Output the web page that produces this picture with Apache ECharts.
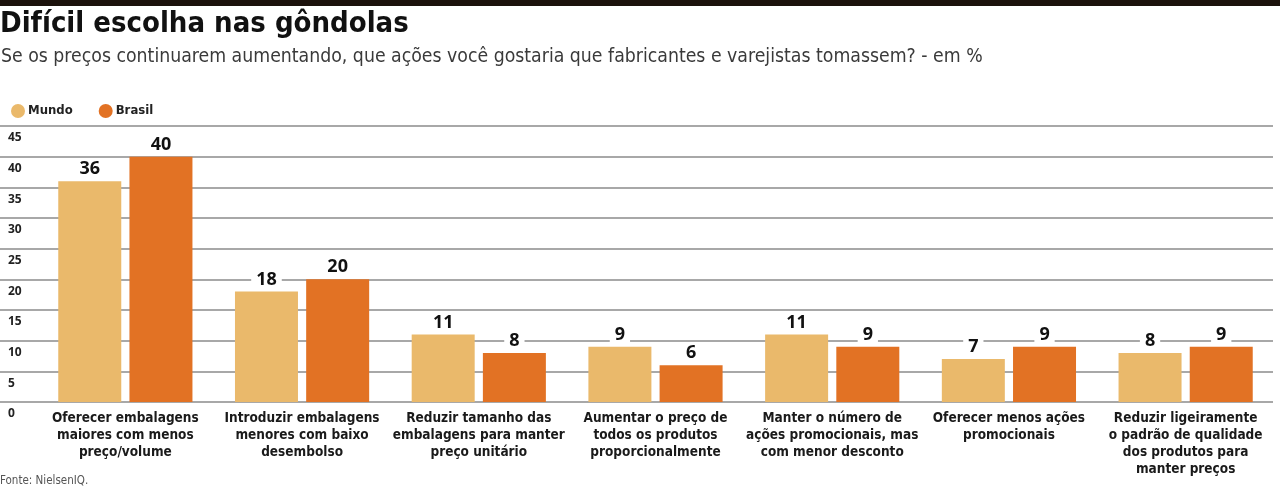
<!DOCTYPE html>
<html>
<head>
<meta charset="utf-8">
<script src="https://cdn.jsdelivr.net/npm/echarts@6/dist/echarts.min.js"></script>
<style>
html,body{margin:0;padding:0;background:#fff;}
#c{width:1280px;height:488px;}
</style>
</head>
<body>
<div id="c"></div>
<script>
const categories = [
  'Oferecer embalagens\nmaiores com menos\npreço/volume',
  'Introduzir embalagens\nmenores com baixo\ndesembolso',
  'Reduzir tamanho das\nembalagens para manter\npreço unitário',
  'Aumentar o preço de\ntodos os produtos\nproporcionalmente',
  'Manter o número de\nações promocionais, mas\ncom menor desconto',
  'Oferecer menos ações\npromocionais',
  'Reduzir ligeiramente\no padrão de qualidade\ndos produtos para\nmanter preços'
];
const mundo = [36, 18, 11, 9, 11, 7, 8];
const brasil = [40, 20, 8, 6, 9, 9, 9];
const seriesNames = ['Mundo', 'Brasil'];
const titleText = 'Difícil escolha nas gôndolas';
const subtitleText = 'Se os preços continuarem aumentando, que ações você gostaria que fabricantes e varejistas tomassem? - em %';
const sourceText = 'Fonte: NielsenIQ.';

const COND = '"DejaVu Sans Condensed", sans-serif';
const chart = echarts.init(document.getElementById('c'), null, {renderer: 'canvas'});

const valueLabel = {
  show: true, position: 'top', distance: 3,
  fontFamily: '"Open Sans", sans-serif', fontWeight: 'bold', fontSize: 18, color: '#111',
  backgroundColor: '#fff', padding: [0, 5, 0, 5]
};

chart.setOption({
  animation: false,
  backgroundColor: '#fff',
  graphic: [{
    type: 'rect', left: 0, top: 0, shape: {width: 1280, height: 6},
    style: {fill: '#1c120c'}
  }],
  title: [
    {text: titleText, left: 0, top: 10, padding: 0,
     textStyle: {fontFamily: COND, fontWeight: 'bold', fontSize: 29, color: '#111'}},
    {text: subtitleText, left: 1, top: 47, padding: 0,
     textStyle: {fontFamily: COND, fontWeight: 'normal', fontSize: 19.3, color: '#3a3a3a'}},
    {text: sourceText, left: 0, top: 475, padding: 0,
     textStyle: {fontFamily: COND, fontWeight: 'normal', fontSize: 11.5, color: '#555'}}
  ],
  legend: {
    left: 11, top: 104, padding: 0, icon: 'circle', itemWidth: 14, itemHeight: 14, itemGap: 26,
    data: seriesNames,
    textStyle: {fontFamily: COND, fontWeight: 'bold', fontSize: 13, color: '#222', padding: [0, 0, 0, -2]}
  },
  grid: [
    {left: 0, right: 7, top: 126, bottom: 86},
    {left: 37, right: 6, top: 126, bottom: 86}
  ],
  xAxis: [
    {gridIndex: 0, type: 'value', show: false, min: 0, max: 1},
    {gridIndex: 1, type: 'category', data: categories,
     axisLine: {show: false}, axisTick: {show: false},
     axisLabel: {interval: 0, margin: 8, fontFamily: COND, fontWeight: 'bold', fontSize: 13.5, lineHeight: 17, color: '#1a1a1a'}}
  ],
  yAxis: [
    {gridIndex: 0, type: 'value', min: 0, max: 45, interval: 5,
     axisLine: {show: false}, axisTick: {show: false},
     splitLine: {show: true, lineStyle: {color: '#a8a8a8', width: 2}},
     axisLabel: {inside: true, margin: 8, verticalAlign: 'top', padding: [6, 0, 0, 0],
       fontFamily: '"Open Sans", sans-serif', fontWeight: 'bold', fontSize: 12, color: '#222'}},
    {gridIndex: 1, type: 'value', min: 0, max: 45, interval: 5, show: false, splitLine: {show: false}}
  ],
  series: [
    {name: seriesNames[0], type: 'bar', xAxisIndex: 1, yAxisIndex: 1, data: mundo,
     barWidth: 63, barGap: '13%', itemStyle: {color: '#EAB96B'}, label: valueLabel},
    {name: seriesNames[1], type: 'bar', xAxisIndex: 1, yAxisIndex: 1, data: brasil,
     barWidth: 63, barGap: '13%', itemStyle: {color: '#E27224'}, label: valueLabel}
  ]
});
</script>
</body>
</html>
